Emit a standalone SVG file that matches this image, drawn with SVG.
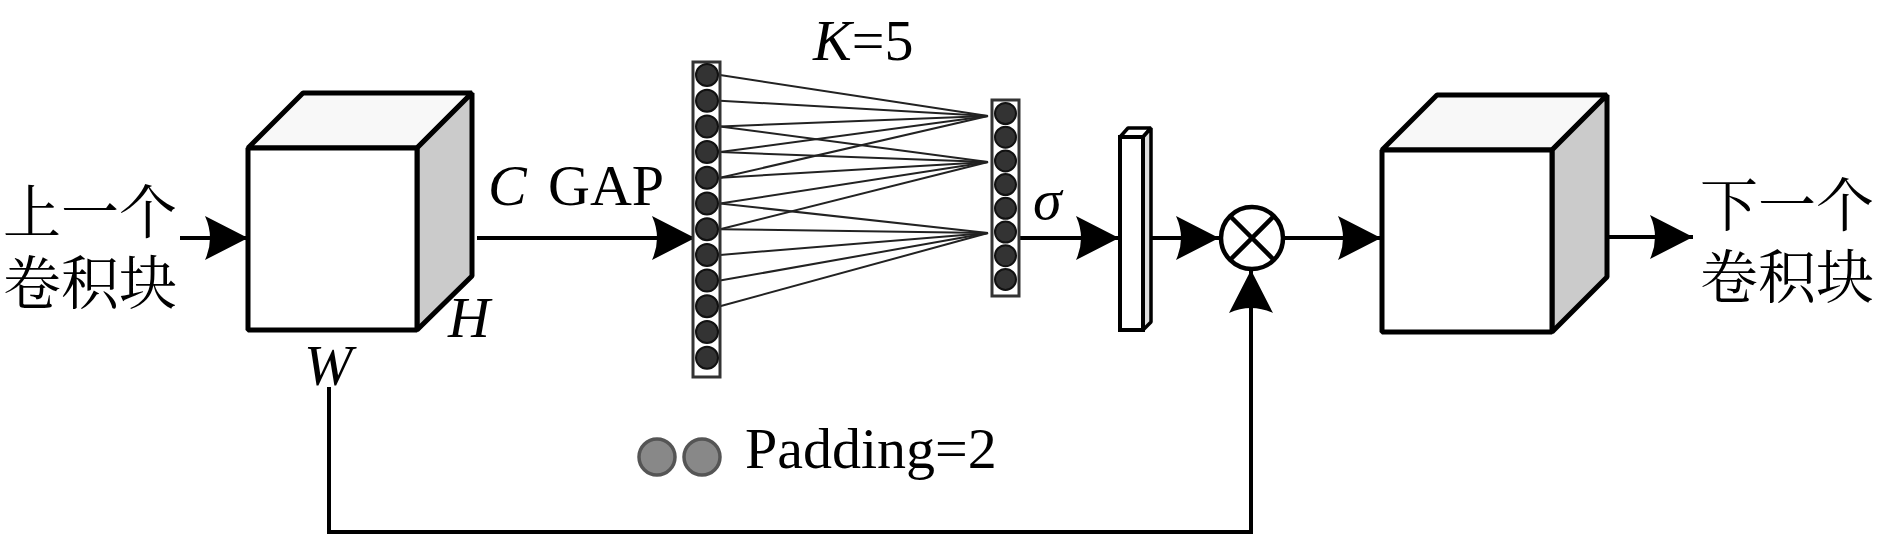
<svg xmlns="http://www.w3.org/2000/svg" width="1878" height="536" viewBox="0 0 1878 536">
<defs>
<style>
.edge{fill:none;stroke:#000;stroke-width:4}
.face{stroke:#000;stroke-width:5;stroke-linejoin:bevel}
.front{fill:#fff}
.top{fill:#f8f8f8}
.side{fill:#cbcbcb}
.col{fill:#fff;stroke:#333;stroke-width:3}
.dot{fill:#333;stroke:#111;stroke-width:2}
.fc{stroke:#222;stroke-width:2}
.pad{fill:#888;stroke:#555;stroke-width:3.5}
.t{font-family:"Liberation Serif","Times New Roman",serif;font-size:58px;fill:#000}
.i{font-style:italic}
.cn{font-family:"Liberation Serif","Noto Serif CJK SC","Noto Sans CJK SC",serif;font-size:58px;fill:#000}
</style>
<marker id="ah" markerUnits="userSpaceOnUse" markerWidth="52" markerHeight="52" viewBox="-47 -26 52 52" refX="0" refY="0" orient="auto">
<path d="M0,0 L-43,-22 Q-33,0 -43,22 Z" fill="#000"/>
</marker>
</defs>
<rect width="1878" height="536" fill="#fff"/>

<g id="connectors">
<line class="edge" x1="180" y1="238" x2="248" y2="238" marker-end="url(#ah)"/>
<line class="edge" x1="477" y1="238" x2="695" y2="238" marker-end="url(#ah)"/>
<line class="edge" x1="1019" y1="238" x2="1119" y2="238" marker-end="url(#ah)"/>
<line class="edge" x1="1151" y1="238" x2="1219" y2="238" marker-end="url(#ah)"/>
<line class="edge" x1="1285" y1="238" x2="1381" y2="238" marker-end="url(#ah)"/>
<line class="edge" x1="1607" y1="237" x2="1693" y2="237" marker-end="url(#ah)"/>
<path class="edge" d="M329,387 V532 H1251 V270" marker-end="url(#ah)"/>
</g>

<g id="fc-lines">
<line class="fc" x1="720" y1="75" x2="988" y2="116"/>
<line class="fc" x1="720" y1="100.7" x2="988" y2="116"/>
<line class="fc" x1="720" y1="126.4" x2="988" y2="116"/>
<line class="fc" x1="720" y1="152.1" x2="988" y2="116"/>
<line class="fc" x1="720" y1="177.8" x2="988" y2="116"/>
<line class="fc" x1="720" y1="126.4" x2="988" y2="162"/>
<line class="fc" x1="720" y1="152.1" x2="988" y2="162"/>
<line class="fc" x1="720" y1="177.8" x2="988" y2="162"/>
<line class="fc" x1="720" y1="203.5" x2="988" y2="162"/>
<line class="fc" x1="720" y1="229.2" x2="988" y2="162"/>
<line class="fc" x1="720" y1="203.5" x2="988" y2="233"/>
<line class="fc" x1="720" y1="229.2" x2="988" y2="233"/>
<line class="fc" x1="720" y1="254.9" x2="988" y2="233"/>
<line class="fc" x1="720" y1="280.6" x2="988" y2="233"/>
<line class="fc" x1="720" y1="306.3" x2="988" y2="233"/>
</g>

<g id="input-label">
<text class="cn" x="3" y="233">上一个</text>
<text class="cn" x="3" y="304">卷积块</text>
</g>

<g id="cube1">
<polygon class="face top" points="248,148 303,93 472,93 417,148"/>
<polygon class="face side" points="417,148 472,93 472,276 417,330"/>
<rect class="face front" x="248" y="148" width="169" height="182"/>
<text class="t i" x="488" y="205">C</text>
<text class="t" x="548" y="205">GAP</text>
<text class="t i" x="448" y="337">H</text>
<text class="t i" x="304" y="385">W</text>
</g>

<g id="gap-vector">
<rect class="col" x="693" y="62" width="27" height="315"/>
<circle class="dot" cx="707" cy="75" r="11"/>
<circle class="dot" cx="707" cy="100.7" r="11"/>
<circle class="dot" cx="707" cy="126.4" r="11"/>
<circle class="dot" cx="707" cy="152.1" r="11"/>
<circle class="dot" cx="707" cy="177.8" r="11"/>
<circle class="dot" cx="707" cy="203.5" r="11"/>
<circle class="dot" cx="707" cy="229.2" r="11"/>
<circle class="dot" cx="707" cy="254.9" r="11"/>
<circle class="dot" cx="707" cy="280.6" r="11"/>
<circle class="dot" cx="707" cy="306.3" r="11"/>
<circle class="dot" cx="707" cy="332" r="11"/>
<circle class="dot" cx="707" cy="357.7" r="11"/>
</g>

<g id="k-label">
<text class="t" x="813" y="60"><tspan font-style="italic">K</tspan>=5</text>
</g>

<g id="conv-vector">
<rect class="col" x="992" y="100" width="27" height="196"/>
<circle class="dot" cx="1005.5" cy="113.5" r="10.5"/>
<circle class="dot" cx="1005.5" cy="137.2" r="10.5"/>
<circle class="dot" cx="1005.5" cy="160.9" r="10.5"/>
<circle class="dot" cx="1005.5" cy="184.6" r="10.5"/>
<circle class="dot" cx="1005.5" cy="208.3" r="10.5"/>
<circle class="dot" cx="1005.5" cy="232" r="10.5"/>
<circle class="dot" cx="1005.5" cy="255.7" r="10.5"/>
<circle class="dot" cx="1005.5" cy="279.4" r="10.5"/>
</g>

<g id="sigma-label">
<text class="t i" x="1033" y="219">σ</text>
</g>

<g id="weights-bar">
<polygon points="1120,137 1128,128 1151,128 1143,137" fill="#fff" stroke="#000" stroke-width="3.5" stroke-linejoin="bevel"/>
<polygon points="1143,137 1151,128 1151,322 1143,330" fill="#ddd" stroke="#000" stroke-width="3.5" stroke-linejoin="bevel"/>
<rect x="1120" y="137" width="23" height="193" fill="#fff" stroke="#000" stroke-width="4"/>
</g>

<g id="multiply">
<circle cx="1252" cy="238" r="31" fill="#fff" stroke="#000" stroke-width="4.5"/>
<path d="M1230,216 L1274,260 M1274,216 L1230,260" stroke="#000" stroke-width="4.5"/>
</g>

<g id="cube2">
<polygon class="face top" points="1382,150 1437,95 1607,95 1552,150"/>
<polygon class="face side" points="1552,150 1607,95 1607,277 1552,332"/>
<rect class="face front" x="1382" y="150" width="170" height="182"/>
</g>

<g id="output-label">
<text class="cn" x="1700" y="226">下一个</text>
<text class="cn" x="1700" y="298">卷积块</text>
</g>

<g id="padding-legend">
<circle class="pad" cx="657" cy="457" r="18"/>
<circle class="pad" cx="702" cy="457" r="18"/>
<text class="t" x="745" y="468">Padding=2</text>
</g>
</svg>
